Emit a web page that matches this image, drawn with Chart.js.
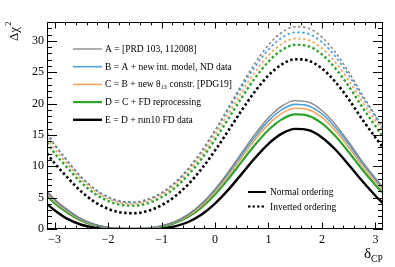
<!DOCTYPE html>
<html><head><meta charset="utf-8">
<script src="https://cdn.jsdelivr.net/npm/chart.js@4/dist/chart.umd.min.js"></script>
<style>html,body{margin:0;padding:0;background:#fff;}#wrap{width:395px;height:267px;position:relative;}</style>
</head><body><div id="wrap"><canvas id="c" width="395" height="267"></canvas></div>
<script>
const deltaCP = [-3.1416,-3.0,-2.75,-2.5,-2.25,-2.0,-1.75,-1.5,-1.25,-1.0,-0.75,-0.5,-0.25,0,0.25,0.5,0.75,1.0,1.25,1.5,1.75,2.0,2.25,2.5,2.75,3.0,3.1416];
// Normal ordering (solid)
const noA = [6.0,4.75,3.01,1.61,0.74,0.25,0.04,0.01,0.13,0.49,1.18,2.33,4.05,6.35,9.12,12.16,15.15,17.74,19.59,20.46,20.21,18.90,16.69,13.88,10.83,8.1,6.7];
const noB = [5.9,4.65,2.95,1.59,0.73,0.25,0.04,0.01,0.13,0.48,1.16,2.29,3.97,6.2,8.89,11.83,14.72,17.23,19.02,19.86,19.62,18.35,16.21,13.50,10.54,7.9,6.5];
const noC = [5.6,4.4,2.76,1.47,0.66,0.23,0.03,0.01,0.12,0.43,1.06,2.14,3.74,5.9,8.52,11.39,14.22,16.68,18.44,19.26,19.03,17.78,15.68,13.02,10.13,7.55,6.2];
const noD = [5.3,4.1,2.54,1.33,0.59,0.20,0.03,0.0,0.10,0.39,0.96,1.95,3.46,5.5,7.99,10.73,13.43,15.78,17.47,18.26,18.04,16.84,14.83,12.28,9.52,7.0,5.7];
const noE = [4.0,3.00,1.57,0.68,0.22,0.04,0.0,0.0,0.02,0.12,0.43,1.12,2.31,4.05,6.27,8.79,11.34,13.58,15.20,15.96,15.75,14.59,12.67,10.25,7.68,5.3,4.1];
// Inverted ordering (dashed)
const ioA = [15.3,13.5,10.78,8.28,6.40,5.13,4.44,4.32,4.76,5.78,7.39,9.62,12.44,15.75,19.37,23.05,26.48,29.34,31.33,32.25,31.99,30.59,28.19,25.04,21.47,18.1,16.2];
const ioB = [15.2,13.4,10.73,8.25,6.35,5.05,4.35,4.22,4.68,5.71,7.35,9.59,12.37,15.6,19.10,22.63,25.89,28.60,30.49,31.36,31.11,29.79,27.52,24.53,21.11,17.9,16.1];
const ioC = [14.5,12.8,10.28,7.89,6.06,4.82,4.14,4.02,4.46,5.45,7.03,9.18,11.87,15.0,18.40,21.83,25.02,27.67,29.51,30.36,30.12,28.82,26.60,23.69,20.36,17.3,15.6];
const ioD = [13.8,12.1,9.68,7.38,5.64,4.47,3.83,3.72,4.13,5.07,6.56,8.62,11.21,14.25,17.57,20.94,24.08,26.69,28.52,29.36,29.12,27.84,25.64,22.77,19.49,16.4,14.7];
const ioE = [12.05,10.5,8.14,5.96,4.32,3.22,2.62,2.52,2.90,3.78,5.19,7.13,9.60,12.5,15.68,18.93,21.95,24.48,26.24,27.06,26.83,25.59,23.46,20.69,17.53,14.6,13.0];
const xTicks = [-3,-2,-1,0,1,2,3];
const yTicks = [0,5,10,15,20,25,30];
const legendLabels = ['A = [PRD 103, 112008]','B = A + new int. model, ND data','C = B + new θ13 constr. [PDG19]','D = C + FD reprocessing','E = D + run10 FD data'];
const orderingLabels = ['Normal ordering','Inverted ordering'];

const colors = ['#808080','#4fa3dc','#f7a55d','#2ca32c','#000000'];
const widths = [1.3,1.6,1.6,2.2,2.4];
const SERIF = '"Liberation Serif","DejaVu Serif",serif';

function pts(arr){ return arr.map((v,i)=>({x:deltaCP[i], y:v})); }
const noSets=[noA,noB,noC,noD,noE], ioSets=[ioA,ioB,ioC,ioD,ioE];
const datasets=[];
for(let i=0;i<5;i++){
  datasets.push({data:pts(ioSets[i]),borderColor:colors[i],borderWidth:widths[i]+0.2,borderDash:[2.5,2.5],pointRadius:0,cubicInterpolationMode:'monotone',fill:false});
}
for(let i=0;i<5;i++){
  datasets.push({data:pts(noSets[i]),borderColor:colors[i],borderWidth:widths[i],pointRadius:0,cubicInterpolationMode:'monotone',fill:false});
}

const deco = {
  id:'deco',
  afterDraw(chart){
    const ctx=chart.ctx, a=chart.chartArea, xs=chart.scales.x, ys=chart.scales.y;
    ctx.save();
    ctx.strokeStyle='#000'; ctx.lineWidth=1;
    ctx.strokeRect(Math.round(a.left)+0.5, Math.round(a.top)+0.5, Math.round(a.right-a.left)-1, Math.round(a.bottom-a.top)-1);
    ctx.beginPath();
    for(let k=-16;k<=16;k++){
      const v=k*0.2; if(v< -3.1416||v>3.1416) continue;
      const px=Math.round(xs.getPixelForValue(v))+0.5;
      const major=(k%5===0); const L=major?6.5:3.3;
      ctx.moveTo(px,a.bottom); ctx.lineTo(px,a.bottom-L);
      ctx.moveTo(px,a.top); ctx.lineTo(px,a.top+L);
    }
    for(let v=0;v<=33;v++){
      const py=Math.round(ys.getPixelForValue(v))+0.5;
      const major=(v%5===0); const L=major?10:5;
      ctx.moveTo(a.left,py); ctx.lineTo(a.left+L,py);
      ctx.moveTo(a.right,py); ctx.lineTo(a.right-L,py);
    }
    ctx.stroke();
    // legend 1
    ctx.textBaseline='middle'; ctx.textAlign='left';
    const F1='9.5px '+SERIF;
    for(let i=0;i<5;i++){
      const y=49+i*17.7;
      ctx.beginPath(); ctx.strokeStyle=colors[i]; ctx.lineWidth=widths[i];
      ctx.moveTo(73,y); ctx.lineTo(102,y); ctx.stroke();
      ctx.fillStyle='#000'; ctx.font=F1;
      const lab=legendLabels[i];
      if(lab.indexOf('θ13')>=0){
        const parts=lab.split('θ13');
        let x=105;
        ctx.fillText(parts[0]+'θ',x,y+0.5); x+=ctx.measureText(parts[0]+'θ').width;
        ctx.font='6px '+SERIF; ctx.fillText('13',x,y+3); x+=ctx.measureText('13').width+0.5;
        ctx.font=F1; ctx.fillText(parts[1],x,y+0.5);
      } else ctx.fillText(lab,105,y+0.5);
    }
    // legend 2
    ctx.strokeStyle='#000'; ctx.lineWidth=2;
    ctx.beginPath(); ctx.moveTo(248,192); ctx.lineTo(266,192); ctx.stroke();
    ctx.setLineDash([2.5,2]); ctx.beginPath(); ctx.moveTo(248,206.5); ctx.lineTo(266,206.5); ctx.stroke(); ctx.setLineDash([]);
    ctx.font='9.5px '+SERIF; ctx.fillStyle='#000';
    ctx.fillText(orderingLabels[0],270,192.5);
    ctx.fillText(orderingLabels[1],270,207);
    // axis titles
    ctx.textBaseline='alphabetic';
    ctx.save(); ctx.translate(18,41); ctx.rotate(-Math.PI/2);
    ctx.font='13px '+SERIF; ctx.fillText('Δχ',0,0); const w=ctx.measureText('Δχ').width;
    ctx.font='8.5px '+SERIF; ctx.fillText('2',w+1,-7);
    ctx.restore();
    ctx.font='15px '+SERIF; ctx.fillText('δ',364,258); const wd=ctx.measureText('δ').width;
    ctx.font='9.5px '+SERIF; ctx.fillText('CP',364+wd,262);
    ctx.restore();
  }
};

new Chart(document.getElementById('c'),{
  type:'line',
  data:{datasets},
  options:{
    responsive:false, animation:false, devicePixelRatio:1,
    layout:{padding:{left:0,right:12,top:22,bottom:0}},
    plugins:{legend:{display:false},tooltip:{enabled:false}},
    scales:{
      x:{type:'linear',min:-3.1416,max:3.1416,
        afterBuildTicks(s){s.ticks=xTicks.map(v=>({value:v}));},
        afterFit(s){s.height=38;},
        grid:{display:false,drawTicks:false}, border:{display:false},
        ticks:{padding:4,color:'#000',font:{family:SERIF,size:12},maxRotation:0,autoSkip:false,
          callback:v=>String(v).replace('-','−')}},
      y:{type:'linear',min:0,max:33,
        afterBuildTicks(s){s.ticks=yTicks.map(v=>({value:v}));},
        afterFit(s){s.width=47;},
        grid:{display:false,drawTicks:false}, border:{display:false},
        ticks:{padding:3,color:'#000',font:{family:SERIF,size:12}}}
    }
  },
  plugins:[deco]
});
</script></body></html>
